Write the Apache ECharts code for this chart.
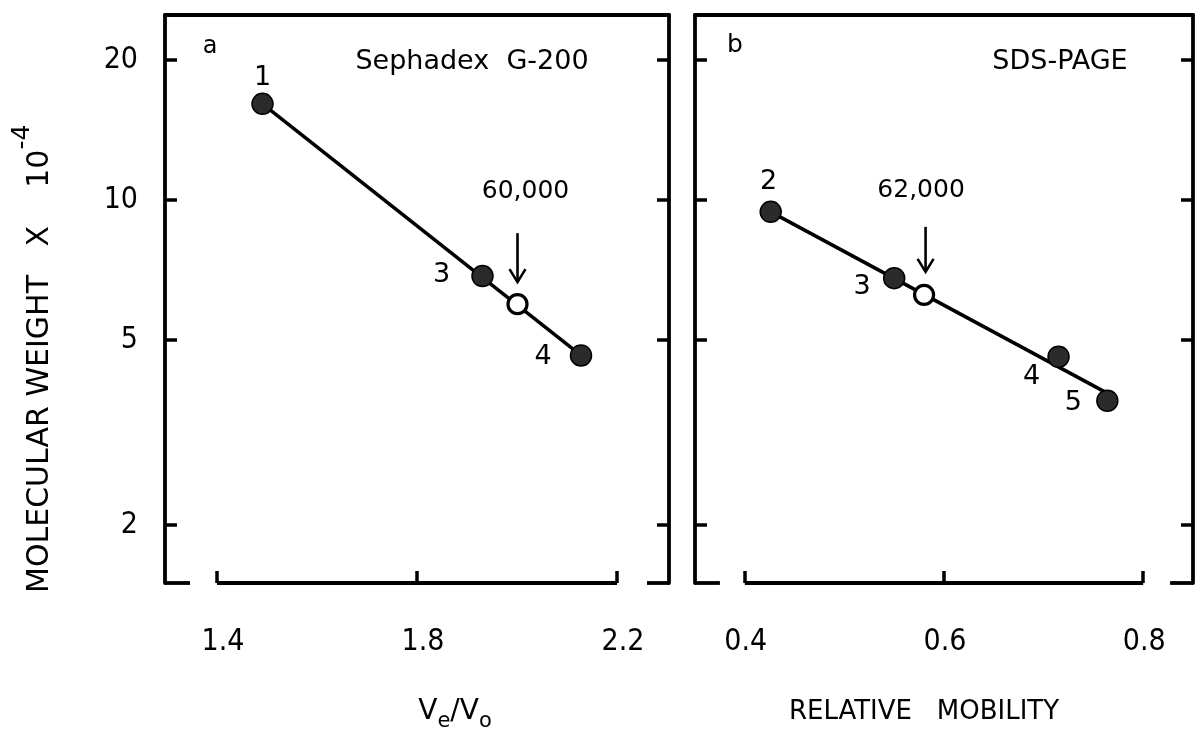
<!DOCTYPE html>
<html>
<head>
<meta charset="utf-8">
<script src="https://cdn.jsdelivr.net/npm/echarts@6/dist/echarts.min.js"></script>
<style>html,body{margin:0;padding:0;background:#fff}#c{width:1201px;height:740px}</style>
</head>
<body>
<div id="c"></div>
<script>
// ---------- DATA ----------
// Panel a: Sephadex G-200 (Ve/Vo vs molecular weight x 10^-4)
const aLabels = ['1', '3', '4'];
const aVeVo = [1.491, 1.931, 2.128];
const aMW = [16.1, 6.86, 4.63];
const aUnknownX = [2.001];
const aUnknownMW = [5.97];
const aUnknownText = '60,000';
const aFitX = [1.491, 2.128];
const aFitMW = [16.1, 4.63];
const aXTicks = [1.4, 1.8, 2.2];

// Panel b: SDS-PAGE (relative mobility vs molecular weight x 10^-4)
const bLabels = ['2', '3', '4', '5'];
const bMobility = [0.426, 0.550, 0.715, 0.764];
const bMW = [9.43, 6.79, 4.60, 3.70];
const bUnknownX = [0.580];
const bUnknownMW = [6.25];
const bUnknownText = '62,000';
const bFitX = [0.426, 0.761];
const bFitMW = [9.43, 3.87];
const bXTicks = [0.4, 0.6, 0.8];

const yTicks = [2, 5, 10, 20];

// ---------- AXIS RANGES ----------
const Y_MIN = 1.5, Y_MAX = 25;
const A_X_MIN = 1.296, A_X_MAX = 2.304;
const B_X_MIN = 0.35, B_X_MAX = 0.85;

// ---------- STYLE ----------
const BLACK = '#000';
const FONT = '"DejaVu Sans", sans-serif';
const NUM_FONT = '"DejaVu Sans Condensed", "Liberation Sans Narrow", "DejaVu Sans", sans-serif';
const tickStyle = { show: true, inside: true, length: 12, lineStyle: { color: BLACK, width: 3.5 } };

const zip = (xs, ys) => xs.map((x, i) => [x, ys[i]]);

function xAxes(gi, min, max, ticks, labelPad) {
  return [
    { type: 'value', gridIndex: gi, position: 'bottom', min, max,
      axisLine: { show: false }, splitLine: { show: false },
      axisTick: Object.assign({}, tickStyle, { customValues: ticks }),
      axisLabel: { show: true, customValues: ticks, margin: 44, color: BLACK, fontSize: 30,
        fontFamily: NUM_FONT, formatter: v => Number(v).toFixed(1), padding: labelPad } },
    { type: 'value', gridIndex: gi, position: 'top', min, max,
      axisLine: { show: true, onZero: false, lineStyle: { color: BLACK, width: 3.8 } },
      axisTick: { show: false }, axisLabel: { show: false }, splitLine: { show: false } }
  ];
}

function yAxes(gi, withLabels) {
  const base = () => ({ type: 'log', logBase: 10, gridIndex: gi, min: Y_MIN, max: Y_MAX,
    splitLine: { show: false }, minorTick: { show: false },
    axisLine: { show: true, onZero: false, lineStyle: { color: BLACK, width: 3.8 } },
    axisTick: Object.assign({}, tickStyle, { customValues: yTicks }) });
  const left = Object.assign(base(), { position: 'left',
    axisLabel: withLabels ? { show: true, customValues: yTicks, margin: 27, color: BLACK,
      fontSize: 30, fontFamily: NUM_FONT, formatter: v => String(Math.round(v)) } : { show: false } });
  const right = Object.assign(base(), { position: 'right', axisLabel: { show: false } });
  return [left, right];
}

function panelSeries(xi, yi, cfg) {
  return [
    { type: 'lines', coordinateSystem: 'cartesian2d', xAxisIndex: xi, yAxisIndex: yi,
      clip: false, silent: true, z: 3,
      lineStyle: { color: BLACK, width: 3.8, opacity: 1 },
      data: cfg.bottom.map(s => ({ coords: [[s[0], Y_MIN], [s[1], Y_MIN]] })) },
    { type: 'line', xAxisIndex: xi, yAxisIndex: yi, data: zip(cfg.fitX, cfg.fitY),
      symbol: 'none', showSymbol: false, clip: false, silent: true, z: 2,
      lineStyle: { color: BLACK, width: 3.5 } },
    { type: 'scatter', xAxisIndex: xi, yAxisIndex: yi, z: 4, symbolSize: 21,
      itemStyle: { color: '#2b2b2b', borderColor: BLACK, borderWidth: 1.5, opacity: 1 },
      label: { show: true, position: 'inside', formatter: '{b}', color: BLACK, fontSize: 27, fontFamily: FONT },
      data: cfg.px.map((x, i) => ({ value: [x, cfg.py[i]], name: cfg.labels[i],
        label: { offset: cfg.offsets[i] } })) },
    { type: 'scatter', xAxisIndex: xi, yAxisIndex: yi, z: 4, symbolSize: 19,
      itemStyle: { color: '#fff', borderColor: BLACK, borderWidth: 3.2, opacity: 1 },
      data: zip(cfg.ux, cfg.uy) },
    { type: 'custom', xAxisIndex: xi, yAxisIndex: yi, z: 5, silent: true,
      data: zip(cfg.ux, cfg.uy),
      renderItem: (params, api) => {
        const p = api.coord([api.value(0), api.value(1)]);
        const a = cfg.ann;
        const ax = p[0] + a.arrowDx, tipY = p[1] + a.arrowTip;
        return { type: 'group', children: [
          { type: 'line', shape: { x1: ax, y1: p[1] + a.arrowTop, x2: ax, y2: tipY },
            style: { stroke: BLACK, lineWidth: 2.6 } },
          { type: 'polyline', shape: { points: [[ax - 8, tipY - 13], [ax, tipY], [ax + 8, tipY - 13]] },
            style: { stroke: BLACK, lineWidth: 2.6, fill: null } },
          { type: 'text', x: p[0] + a.textDx, y: p[1] + a.textDy,
            style: { text: cfg.utext, align: 'center', verticalAlign: 'middle', fill: BLACK,
              fontSize: 25, fontFamily: FONT } }
        ] };
      } }
  ];
}

const seriesA = panelSeries(0, 0, {
  bottom: [[A_X_MIN, A_X_MIN + 0.05], [aXTicks[0], aXTicks[aXTicks.length - 1]], [2.26, A_X_MAX]],
  fitX: aFitX, fitY: aFitMW, px: aVeVo, py: aMW, labels: aLabels,
  offsets: [[0, -26], [-41, -1], [-38, 2]],
  ux: aUnknownX, uy: aUnknownMW, utext: aUnknownText,
  ann: { arrowDx: 0, arrowTop: -71, arrowTip: -22, textDx: 8, textDy: -113 }
});
const seriesB = panelSeries(2, 2, {
  bottom: [[B_X_MIN, B_X_MIN + 0.025], [bXTicks[0], bXTicks[bXTicks.length - 1]], [0.827, B_X_MAX]],
  fitX: bFitX, fitY: bFitMW, px: bMobility, py: bMW, labels: bLabels,
  offsets: [[-2, -30], [-32, 9], [-27, 20], [-34, 2]],
  ux: bUnknownX, uy: bUnknownMW, utext: bUnknownText,
  ann: { arrowDx: 1.5, arrowTop: -68, arrowTip: -23, textDx: -3, textDy: -104 }
});

const textStyle = (t, size) => ({ text: t, fill: BLACK, fontSize: size, fontFamily: FONT,
  align: 'center', verticalAlign: 'middle' });

const option = {
  animation: false,
  backgroundColor: '#fff',
  grid: [
    { left: 165, top: 15, width: 504, height: 568 },
    { left: 695, top: 15, width: 498, height: 568 }
  ],
  xAxis: [].concat(xAxes(0, A_X_MIN, A_X_MAX, aXTicks, [0, 0, 0, 12]),
                   xAxes(1, B_X_MIN, B_X_MAX, bXTicks, [0, 0, 0, 2])),
  yAxis: [].concat(yAxes(0, true), yAxes(1, false)),
  series: seriesA.concat(seriesB),
  graphic: [
    { type: 'text', x: 210, y: 47, style: textStyle('a', 24) },
    { type: 'text', x: 472, y: 62, style: textStyle('Sephadex  G-200', 27) },
    { type: 'text', x: 735, y: 45, style: textStyle('b', 25) },
    { type: 'text', x: 1060, y: 62, style: textStyle('SDS-PAGE', 27) },
    { type: 'text', x: 40, y: 593, rotation: Math.PI / 2,
      style: { text: 'MOLECULAR WEIGHT   X    10{sup|-4}', fill: BLACK, fontSize: 30, fontFamily: FONT,
        align: 'left', verticalAlign: 'middle', lineHeight: 60,
        rich: { sup: { fontSize: 25, fontFamily: FONT, fill: BLACK, verticalAlign: 'top', lineHeight: 24 } } } },
    { type: 'text', x: 455, y: 712,
      style: { text: 'V{sub|e}/V{sub|o}', fill: BLACK, fontSize: 28, fontFamily: FONT,
        align: 'center', verticalAlign: 'middle', lineHeight: 40,
        rich: { sub: { fontSize: 21, fontFamily: FONT, fill: BLACK, verticalAlign: 'bottom', lineHeight: 20 } } } },
    { type: 'text', x: 924, y: 712, style: textStyle('RELATIVE   MOBILITY', 26) }
  ]
};

const chart = echarts.init(document.getElementById('c'));
chart.setOption(option);
</script>
</body>
</html>
